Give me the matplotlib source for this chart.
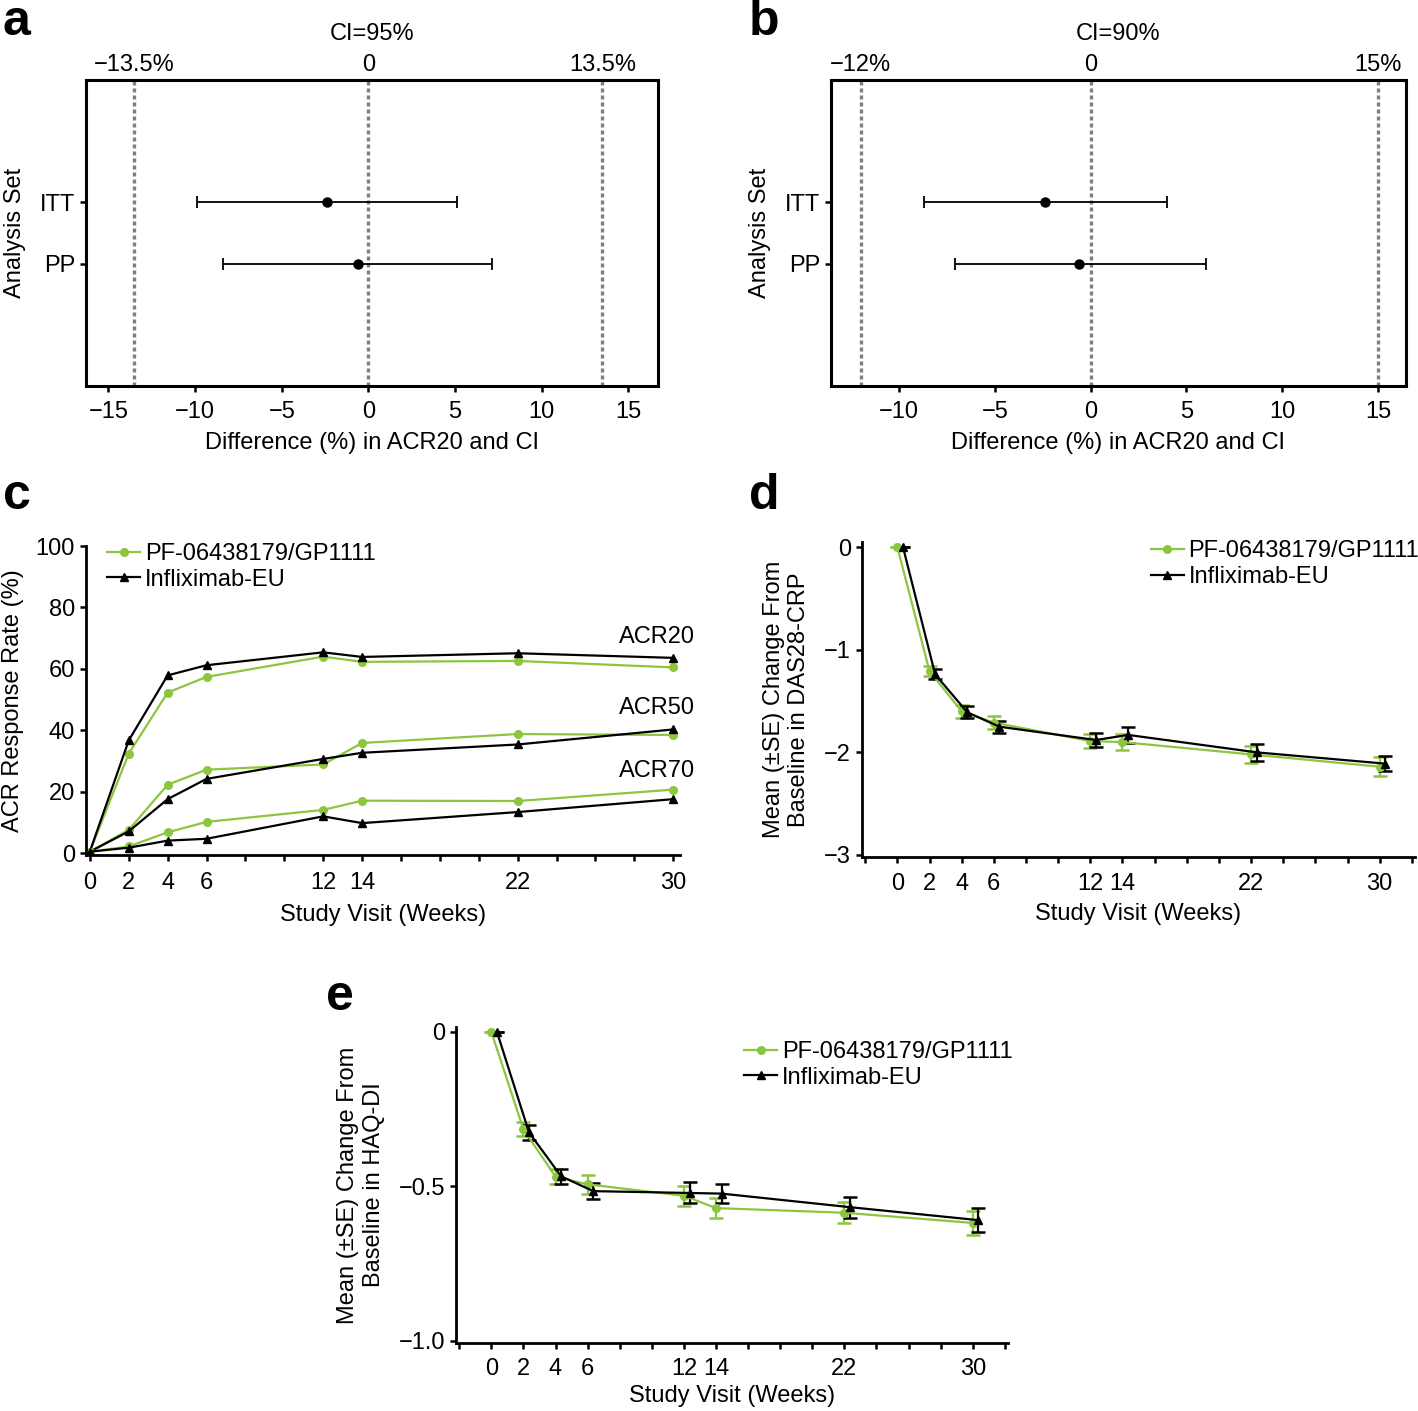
import numpy as np
import matplotlib.pyplot as plt

plt.rcParams['font.family'] = ['Liberation Sans', 'DejaVu Sans']
plt.rcParams['font.size'] = 17

green = '#8cc63f'

# --- a / b : ACR20 difference with CI ---
sets = ['ITT', 'PP']
set_pos = [3, 2]

diff_a = [-2.4, -0.6]
lo_a = [-9.9, -8.4]
hi_a = [5.1, 7.1]
margins_a = [-13.5, 0, 13.5]
margin_labels_a = ['\u221213.5%', '0', '13.5%']

diff_b = [-2.4, -0.6]
lo_b = [-8.7, -7.1]
hi_b = [4.0, 6.0]
margins_b = [-12, 0, 15]
margin_labels_b = ['\u221212%', '0', '15%']

# --- c : ACR response rates ---
weeks = [0, 2, 4, 6, 12, 14, 22, 30]
acr20_pf = [0.5, 32.4, 52.3, 57.4, 64.0, 62.3, 62.6, 60.5]
acr20_ifx = [0.5, 36.7, 57.9, 61.2, 65.4, 63.9, 65.1, 63.6]
acr50_pf = [0.5, 7.6, 22.3, 27.2, 28.9, 35.9, 38.8, 38.5]
acr50_ifx = [0.5, 7.1, 17.6, 24.2, 30.7, 32.7, 35.4, 40.3]
acr70_pf = [0.5, 2.2, 6.8, 10.2, 14.1, 17.1, 17.0, 20.7]
acr70_ifx = [0.5, 1.8, 4.1, 4.7, 12.0, 9.8, 13.4, 17.6]
acr_names = ['ACR20', 'ACR50', 'ACR70']
acr_label_y = [70.5, 47.2, 26.7]

# --- d : DAS28-CRP change ---
das_pf = [0, -1.21, -1.60, -1.71, -1.89, -1.90, -2.02, -2.14]
das_pf_se = [0, 0.05, 0.065, 0.06, 0.07, 0.08, 0.08, 0.09]
das_ifx = [0, -1.24, -1.61, -1.75, -1.88, -1.83, -2.00, -2.11]
das_ifx_se = [0, 0.05, 0.057, 0.06, 0.068, 0.078, 0.08, 0.073]

# --- e : HAQ-DI change ---
haq_pf = [0, -0.316, -0.469, -0.494, -0.531, -0.571, -0.586, -0.619]
haq_pf_se = [0, 0.023, 0.024, 0.031, 0.033, 0.032, 0.034, 0.038]
haq_ifx = [0, -0.326, -0.468, -0.516, -0.522, -0.524, -0.568, -0.610]
haq_ifx_se = [0, 0.023, 0.025, 0.027, 0.034, 0.032, 0.034, 0.038]

series_names = ['PF-06438179/GP1111', 'Infliximab-EU']

fig = plt.figure(figsize=(14.18, 14.11), dpi=100)


def forest(ax, diff, lo, hi, margins, mlabels, ci, xlim):
    for m in margins:
        ax.axvline(m, color='#7f7f7f', ls=(0, (1.2, 0.9)), lw=2.4, zorder=1)
    err = [np.subtract(diff, lo), np.subtract(hi, diff)]
    ax.errorbar(diff, set_pos, xerr=err, fmt='o', color='black', ms=6.5,
                elinewidth=1.3, capsize=4.5, capthick=1.3, zorder=3)
    ax.set_yticks(set_pos, sets)
    ax.set_xticks(np.arange(-15, 16, 5))
    ax.set_xlim(xlim)
    ax.set_ylim(0, 5)
    for s in ax.spines.values():
        s.set_linewidth(2.2)
    ax.tick_params(width=1.8, length=4.5)
    ax.tick_params(axis='x', pad=6)
    ax.tick_params(axis='y', pad=3)
    top = ax.secondary_xaxis('top')
    top.set_xticks(margins, mlabels)
    top.tick_params(length=0, pad=3)
    ax.set_title(f'CI={ci}%', pad=10, fontsize=17)
    ax.set_xlabel('Difference (%) in ACR20 and CI', labelpad=7)
    ax.set_ylabel('Analysis Set', labelpad=10)


ax_a = fig.add_axes([0.0606, 0.7264, 0.4034, 0.2169])
forest(ax_a, diff_a, lo_a, hi_a, margins_a, margin_labels_a, 95, (-16.3, 16.7))
ax_b = fig.add_axes([0.586, 0.7264, 0.4055, 0.2169])
forest(ax_b, diff_b, lo_b, hi_b, margins_b, margin_labels_b, 90, (-13.55, 16.45))


def time_axes(ax, xlim, ylim, pad=8, labelpad=7):
    ax.spines[['top', 'right']].set_visible(False)
    ax.spines[['left', 'bottom']].set_linewidth(2)
    lo = int(np.ceil(xlim[0] / 2) * 2)
    ticks = np.arange(lo, 31 if xlim[1] < 31 else 33, 2)
    ax.set_xticks(ticks, [str(t) if t in weeks else '' for t in ticks])
    ax.set_xlim(xlim)
    ax.set_ylim(ylim)
    ax.tick_params(width=1.8, length=4.5)
    ax.tick_params(axis='x', pad=pad)
    ax.set_xlabel('Study Visit (Weeks)', labelpad=labelpad)


# c
ax_c = fig.add_axes([0.0606, 0.394, 0.419, 0.219])
pairs = [(acr20_pf, acr20_ifx), (acr50_pf, acr50_ifx), (acr70_pf, acr70_ifx)]
for i, (pf, ifx) in enumerate(pairs):
    ax_c.plot(weeks, pf, color=green, marker='o', ms=5.5, lw=1.6,
              label=series_names[0] if i == 0 else None)
    ax_c.plot(weeks, ifx, color='black', marker='^', ms=6, lw=1.6,
              label=series_names[1] if i == 0 else None)
for name, yy in zip(acr_names, acr_label_y):
    ax_c.text(31.1, yy, name, ha='right', va='center', clip_on=False)
ax_c.set_yticks(np.arange(0, 101, 20))
time_axes(ax_c, (-0.2, 30.35), (-0.6, 100))
ax_c.set_ylabel('ACR Response Rate (%)', labelpad=8)
ax_c.legend(loc='upper left', bbox_to_anchor=(0.02, 1.04), frameon=False,
            handlelength=1.4, handletextpad=0.2, labelspacing=0.15, borderaxespad=0)


def change_panel(ax, pf, pf_se, ifx, ifx_se, legend_y):
    wk = np.array(weeks)
    ax.errorbar(wk, pf, yerr=pf_se, color=green, marker='o', ms=5.5, lw=1.6,
                elinewidth=1.6, capsize=5, capthick=1.8, label=series_names[0])
    ax.errorbar(wk + 0.35, ifx, yerr=ifx_se, color='black', marker='^', ms=6, lw=1.6,
                elinewidth=1.6, capsize=5, capthick=1.8, label=series_names[1])
    h, l = ax.get_legend_handles_labels()
    h = [x[0] for x in h]
    ax.legend(h, l, loc='upper left', bbox_to_anchor=(0.505, legend_y), frameon=False,
              handlelength=1.4, handletextpad=0.2, labelspacing=0.15, borderaxespad=0)


# d
ax_d = fig.add_axes([0.6079, 0.3926, 0.39, 0.2233])
change_panel(ax_d, das_pf, das_pf_se, das_ifx, das_ifx_se, 1.035)
ax_d.set_yticks([0, -1, -2, -3], ['0', '\u22121', '\u22122', '\u22123'])
time_axes(ax_d, (-2.2, 32.2), (-3.02, 0.05), pad=7, labelpad=6)
ax_d.set_ylabel('Mean (\u00b1SE) Change From\nBaseline in DAS28-CRP', labelpad=10)

# e
ax_e = fig.add_axes([0.3216, 0.0482, 0.3893, 0.224])
change_panel(ax_e, haq_pf, haq_pf_se, haq_ifx, haq_ifx_se, 0.985)
ax_e.set_yticks([0, -0.5, -1.0], ['0', '\u22120.5', '\u22121.0'])
time_axes(ax_e, (-2.2, 32.2), (-1.008, 0.016), pad=6, labelpad=4)
ax_e.set_ylabel('Mean (\u00b1SE) Change From\nBaseline in HAQ-DI', labelpad=10)

# panel letters
for letter, x, y in [('a', 0.002, 0.975), ('b', 0.528, 0.975), ('c', 0.002, 0.639),
                     ('d', 0.528, 0.639), ('e', 0.23, 0.284)]:
    fig.text(x, y, letter, fontsize=36, fontweight='bold', va='baseline')

fig.savefig('out.png', dpi=100)
